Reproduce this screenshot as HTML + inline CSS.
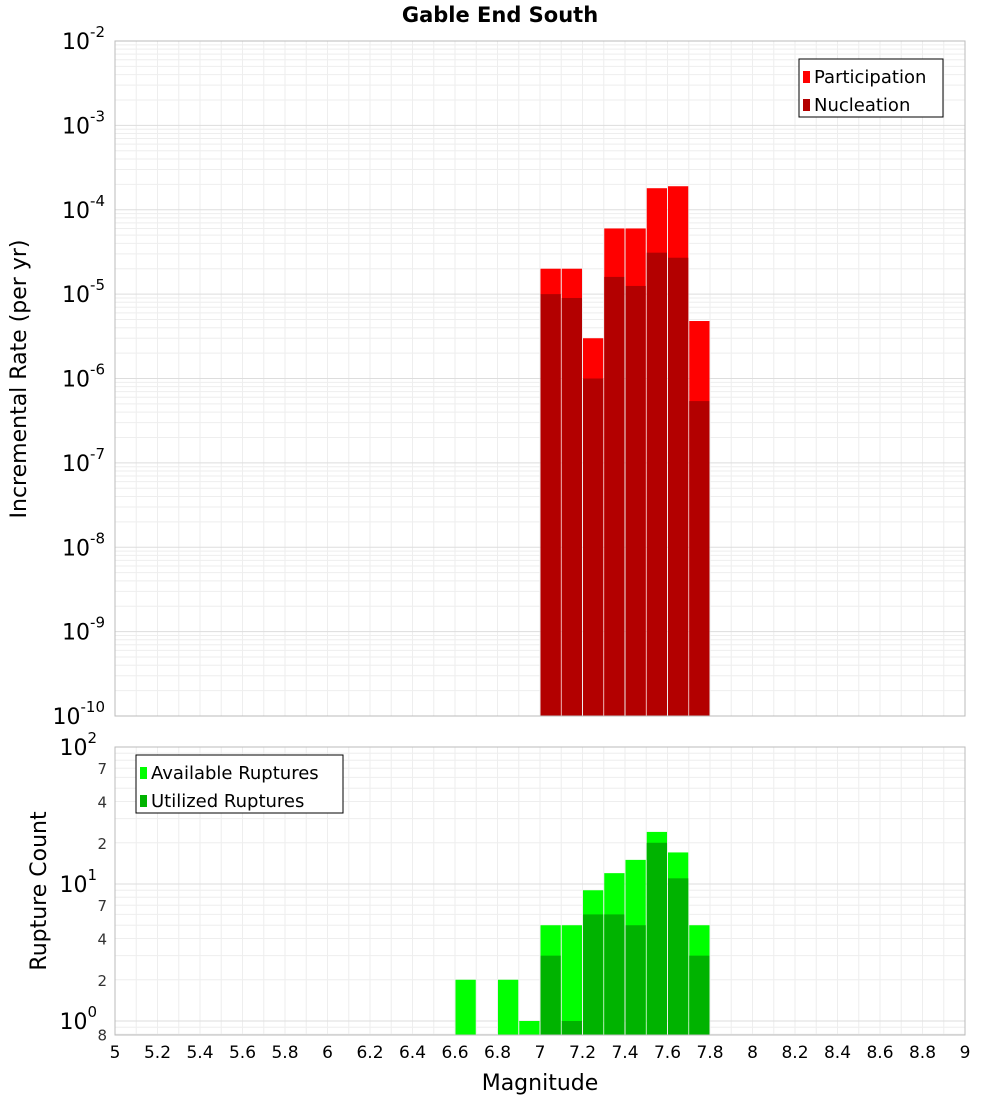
<!DOCTYPE html>
<html><head><meta charset="utf-8"><style>
body{margin:0;background:#fff;font-family:"Liberation Sans","DejaVu Sans",sans-serif}
svg text{font-family:"DejaVu Sans","Liberation Sans",sans-serif}
</style></head><body>
<svg id="c" width="1000" height="1100" xmlns="http://www.w3.org/2000/svg"></svg>
<script>
const binCenters=[6.65,6.75,6.85,6.95,7.05,7.15,7.25,7.35,7.45,7.55,7.65,7.75];
const participation=[0,0,0,0,2e-5,2e-5,3e-6,6e-5,6e-5,1.8e-4,1.9e-4,4.8e-6];
const nucleation=[0,0,0,0,1.0e-5,9e-6,1e-6,1.6e-5,1.25e-5,3.1e-5,2.7e-5,5.4e-7];
const available=[2,0,2,1,5,5,9,12,15,24,17,5];
const utilized=[0,0,0,0,3,1,6,6,5,20,11,3];
const xTicks=[5,5.2,5.4,5.6,5.8,6,6.2,6.4,6.6,6.8,7,7.2,7.4,7.6,7.8,8,8.2,8.4,8.6,8.8,9];
const topExps=[-2,-3,-4,-5,-6,-7,-8,-9,-10];
const NS="http://www.w3.org/2000/svg";
const svg=document.getElementById('c');
function mk(t,a,p){const e=document.createElementNS(NS,t);for(const k in a)e.setAttribute(k,a[k]);(p||svg).appendChild(e);return e;}
const X0=115,X1=965;
const xs=m=>X0+(m-5)/4*(X1-X0);
const T0=41,T1=716;
const yTop=v=>T0+(-2-Math.log10(v))/8*(T1-T0);
const B0=747,B1=1035,BD=137;
const yBot=v=>1021-Math.log10(v)*BD;
// frames backgrounds
mk('rect',{x:X0,y:T0,width:X1-X0,height:T1-T0,fill:'#fff',stroke:'#bbb'});
mk('rect',{x:X0,y:B0,width:X1-X0,height:B1-B0,fill:'#fff',stroke:'#bbb'});
// grid
for(let m=5;m<=9.001;m+=0.1){const x=xs(m);
 mk('line',{x1:x,x2:x,y1:T0,y2:T1,stroke:'#eee'});mk('line',{x1:x,x2:x,y1:B0,y2:B1,stroke:'#eee'});}
for(let e=-10;e<-2;e++)for(let k=1;k<10;k++){const y=yTop(k*Math.pow(10,e));mk('line',{x1:X0,x2:X1,y1:y,y2:y,stroke:k==1?'#ddd':'#eee'});}
for(let e=-1;e<2;e++)for(let k=1;k<10;k++){const y=yBot(k*Math.pow(10,e));if(y<B0||y>B1)continue;mk('line',{x1:X0,x2:X1,y1:y,y2:y,stroke:k==1?'#ddd':'#eee'});}
// top bars
const bw=xs(5.1)-xs(5)-1;
binCenters.forEach((m,i)=>{const x=xs(m-0.05)+0.5;
 if(participation[i]>0){const r=mk('rect',{x:x,y:yTop(participation[i]),width:bw,height:T1-yTop(participation[i]),fill:'#ff0000'});
 }
 if(nucleation[i]>0){const r=mk('rect',{x:x,y:yTop(nucleation[i]),width:bw,height:T1-yTop(nucleation[i]),fill:'#b30000'});
 }
 if(available[i]>0){const r=mk('rect',{x:x,y:yBot(available[i]),width:bw,height:B1-yBot(available[i]),fill:'#00ff00'});
 }
 if(utilized[i]>0){const r=mk('rect',{x:x,y:yBot(utilized[i]),width:bw,height:B1-yBot(utilized[i]),fill:'#00b300'});
 }
});
mk('rect',{x:X0,y:T0,width:X1-X0,height:T1-T0,fill:'none',stroke:'#bbb'});
mk('rect',{x:X0,y:B0,width:X1-X0,height:B1-B0,fill:'none',stroke:'#bbb'});
// top y labels
topExps.forEach(e=>{const y=yTop(Math.pow(10,e));const t=mk('text',{x:105,y:y+8,'text-anchor':'end','font-size':22,fill:'#000'});
 
 t.innerHTML='10<tspan dy="-12" font-size="15">'+e+'</tspan>';});
// bottom y labels
[[100,'10','2'],[10,'10','1'],[1,'10','0']].forEach(d=>{const t=mk('text',{x:97,y:yBot(d[0])+8,'text-anchor':'end','font-size':22});
 
 t.innerHTML=d[1]+'<tspan dy="-12" font-size="15">'+d[2]+'</tspan>';});
[[70,'7'],[40,'4'],[20,'2'],[7,'7'],[4,'4'],[2,'2'],[0.8,'8']].forEach(d=>{const t=mk('text',{x:107,y:yBot(d[0])+6,'text-anchor':'end','font-size':15,fill:'#333'});
 t.textContent=d[1];});
// x labels
xTicks.forEach(v=>{const t=mk('text',{x:xs(v),y:1058,'text-anchor':'middle','font-size':17});t.textContent=String(v);
 });
// titles
let t=mk('text',{x:500,y:22,'text-anchor':'middle','font-size':21,'font-weight':'bold'});t.textContent='Gable End South';
t=mk('text',{x:540,y:1090,'text-anchor':'middle','font-size':22});t.textContent='Magnitude';
t=mk('text',{x:0,y:0,'text-anchor':'middle','font-size':22,transform:'translate(26,379) rotate(-90)'});t.textContent='Incremental Rate (per yr)';
t=mk('text',{x:0,y:0,'text-anchor':'middle','font-size':22,transform:'translate(46,891) rotate(-90)'});t.textContent='Rupture Count';
// legends
function legend(x,y,w,items,name){const g=mk('g',{});
 mk('rect',{x:x,y:y,width:w,height:58,fill:'#fff',stroke:'#000'},g);
 items.forEach((it,i)=>{mk('rect',{x:x+4,y:y+12+i*28,width:7,height:12,fill:it[1]},g);
  const tt=mk('text',{x:x+15,y:y+24+i*28,'font-size':18},g);tt.textContent=it[0];});}
legend(799,59,144,[['Participation','#ff0000'],['Nucleation','#b30000']],'top-legend');
legend(136,755,207,[['Available Ruptures','#00ff00'],['Utilized Ruptures','#00b300']],'bottom-legend');
</script>
</body></html>
